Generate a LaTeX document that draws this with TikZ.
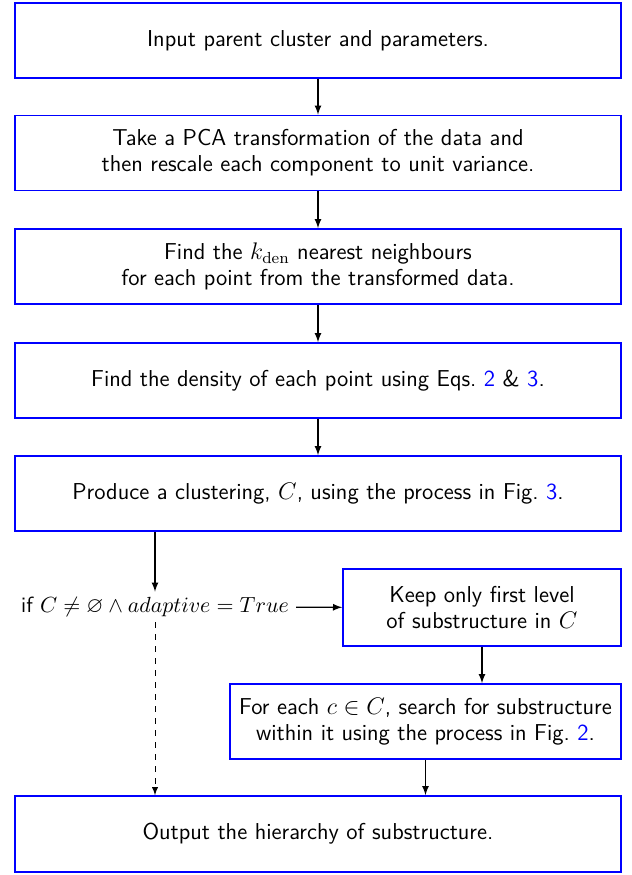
\documentclass[tikz,border=0pt]{standalone}
\usepackage{amssymb, amsmath}
\usepackage{tikz}
\usetikzlibrary{arrows}
\newcommand{\figref}[1]{\textcolor{blue}{#1}}

\begin{document}
\begin{tikzpicture}[x=0.5pt, y=-0.5pt,
			kasten/.style={draw=blue, thick, minimum height=37.5pt, align=center, inner sep=0pt},
			>=latex,   %Pfeilspitzen
			font=\sffamily\fontsize{11.5pt}{13pt}\selectfont]
			%Bildbereich festlegen
			\useasboundingbox (0,0) rectangle (632,875);
			%Hauptkette der Kaesten
			\node[kasten, minimum width=303pt] (input) at (318,40.5) {Input parent cluster and parameters.};
			\node[kasten, minimum width=303pt] (pca) at (318,153) {Take a PCA transformation of the data and\\then rescale each component to unit variance.};
			\node[kasten, minimum width=303pt] (nachbarn) at (318,266.5) {Find the $k_{\mathrm{den}}$ nearest neighbours\\for each point from the transformed data.};
			\node[kasten, minimum width=303pt] (dichte) at (318,380.5) {Find the density of each point using Eqs.~\figref{2} \& \figref{3}.};
			\node[kasten, minimum width=303pt] (cluster) at (318,493.5) {Produce a clustering, $C$, using the process in Fig.~\figref{3}.};
			%Verzweigung
			\node[inner xsep=3.5pt, inner ysep=2.5pt, font=\sffamily\fontsize{11pt}{13pt}\selectfont] (bedingung) at (155,607) {if $C \neq \varnothing \wedge adaptive = True$};
			\node[kasten, minimum width=139pt, minimum height=38.5pt] (behalten) at (482,607.5) {Keep only first level\\of substructure in $C$};
			\node[kasten, minimum width=195.5pt] (suche) at (425.5,721.5) {For each $c \in C$, search for substructure\\within it using the process in Fig.~\figref{2}.};
			\node[kasten, minimum width=303pt, minimum height=38pt] (ausgabe) at (318,834) {Output the hierarchy of substructure.};
			%Pfeile zeichnen
			\draw[->, semithick] (input) -- (pca);
			\draw[->, semithick] (pca) -- (nachbarn);
			\draw[->, semithick] (nachbarn) -- (dichte);
			\draw[->, semithick] (dichte) -- (cluster);
			\draw[->, semithick] (cluster.south -| bedingung) -- (bedingung);
			\draw[->, semithick] (bedingung) -- (behalten);
			\draw[->, semithick] (behalten) -- (behalten |- suche.north);
			\draw[->, semithick] (suche) -- (suche |- ausgabe.north);
			\draw[->, dashed] (bedingung) -- (bedingung |- ausgabe.north);
		\end{tikzpicture}
\end{document}
